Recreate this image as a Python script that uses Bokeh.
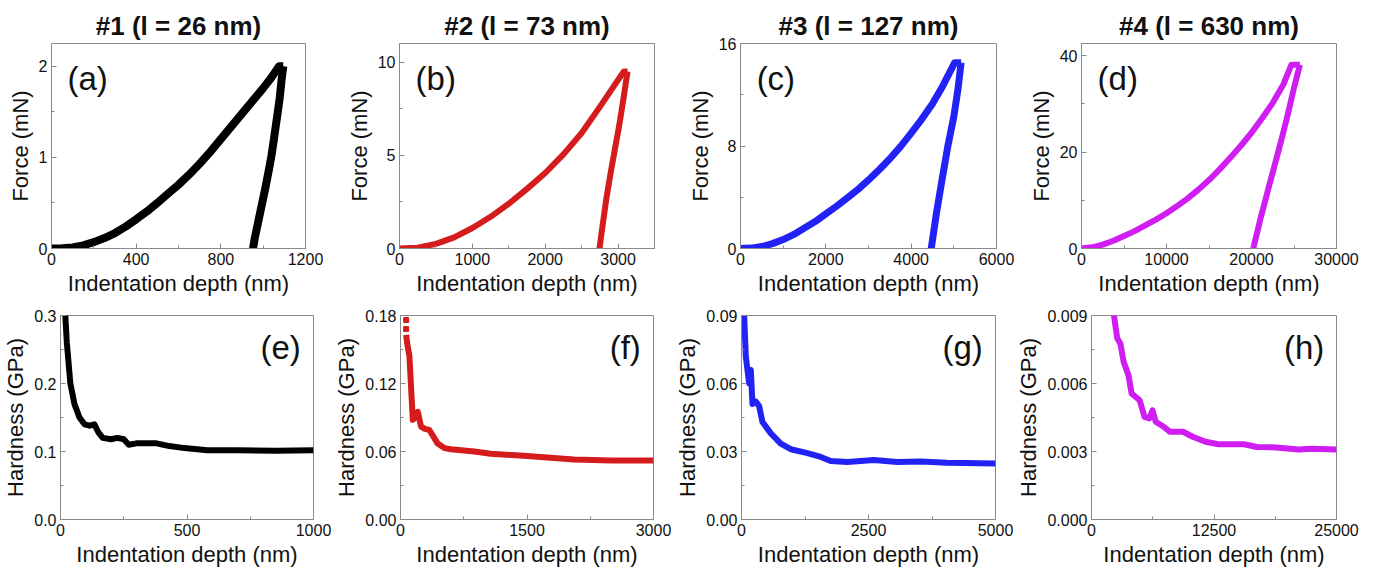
from bokeh.plotting import figure
from bokeh.models import Range1d, FixedTicker, PrintfTickFormatter, Label
from bokeh.layouts import column, row
from bokeh.embed import file_html
from bokeh.resources import INLINE

# ---------------- data ----------------
titles = ["#1 (l = 26 nm)", "#2 (l = 73 nm)", "#3 (l = 127 nm)", "#4 (l = 630 nm)"]
top_letters = ["(a)", "(b)", "(c)", "(d)"]
bot_letters = ["(e)", "(f)", "(g)", "(h)"]
colors = ["#000000", "#d41c1c", "#2222f5", "#d01ef2"]

# (a) sample #1 force-depth
a_load_x = [0, 50, 100, 150, 200, 250, 300, 350, 400, 450, 500, 550, 600, 650, 700, 750, 800,
            850, 900, 950, 1000, 1040, 1075, 1095]
a_load_y = [0, 0.002, 0.012, 0.035, 0.07, 0.115, 0.17, 0.24, 0.32, 0.405, 0.5, 0.6, 0.7, 0.81,
            0.93, 1.06, 1.2, 1.34, 1.48, 1.62, 1.76, 1.88, 2.0, 2.0]
a_unl_x = [1095, 1087, 1078, 1068, 1058, 1049, 1040, 1030, 1020, 1010, 1000, 990, 980, 970, 960, 952]
a_unl_y = [2.0, 1.85, 1.65, 1.48, 1.32, 1.17, 1.03, 0.9, 0.78, 0.66, 0.55, 0.44, 0.33, 0.22, 0.11, 0.0]
# (b) sample #2
b_load_x = [0, 250, 500, 750, 1000, 1250, 1500, 1750, 2000, 2250, 2500, 2750, 3000, 3080, 3130]
b_load_y = [0, 0.04, 0.25, 0.6, 1.1, 1.7, 2.4, 3.2, 4.05, 5.05, 6.2, 7.6, 9.05, 9.5, 9.5]
b_unl_x = [3130, 3105, 3080, 3050, 3020, 2990, 2960, 2930, 2900, 2870, 2840, 2815, 2790, 2765, 2745]
b_unl_y = [9.5, 8.85, 8.2, 7.45, 6.7, 6.05, 5.4, 4.75, 4.1, 3.4, 2.7, 2.0, 1.3, 0.6, 0.0]
# (c) sample #3
c_load_x = [0, 250, 500, 750, 1000, 1250, 1500, 1750, 2000, 2250, 2500, 2750, 3000, 3250, 3500,
            3750, 4000, 4250, 4500, 4750, 5020, 5170]
c_load_y = [0, 0.03, 0.15, 0.38, 0.7, 1.1, 1.6, 2.1, 2.7, 3.3, 3.95, 4.6, 5.35, 6.15, 7.0, 7.95,
            9.0, 10.1, 11.3, 12.75, 14.5, 14.5]
c_unl_x = [5170, 5135, 5100, 5050, 5000, 4930, 4860, 4790, 4720, 4655, 4590, 4530, 4470]
c_unl_y = [14.5, 13.5, 12.5, 11.4, 10.3, 9.15, 8.0, 6.65, 5.3, 4.0, 2.7, 1.35, 0.0]
# (d) sample #4
d_load_x = [0, 1250, 2500, 3750, 5000, 6250, 7500, 8750, 10000, 11250, 12500, 13750, 15000, 16250,
            17500, 18750, 20000, 21250, 22500, 23750, 24700, 25690]
d_load_y = [0, 0.25, 0.8, 1.6, 2.6, 3.6, 4.8, 6.0, 7.3, 8.8, 10.4, 12.2, 14.2, 16.4, 18.8, 21.3,
            24.0, 27.0, 30.2, 34.0, 38.1, 38.1]
d_unl_x = [25690, 25350, 25000, 24600, 24200, 23670, 23140, 22620, 22100, 21600, 21100, 20650, 20200]
d_unl_y = [38.1, 35.7, 33.3, 30.3, 27.3, 23.6, 20.0, 16.6, 13.2, 9.8, 6.5, 3.2, 0.0]

# (e)-(h) hardness-depth
e_x = [16, 25, 39, 55, 75, 95, 115, 134, 150, 167, 200, 225, 250, 270, 300, 380, 430, 490, 580, 700, 850, 1000]
e_y = [0.32, 0.26, 0.2, 0.17, 0.15, 0.14, 0.138, 0.14, 0.128, 0.12, 0.118, 0.12, 0.118, 0.11, 0.112,
       0.112, 0.108, 0.105, 0.102, 0.102, 0.101, 0.102]
f_pts_x = [67, 67]
f_pts_y = [0.176, 0.168]
f_x = [67, 80, 106, 130, 146, 175, 205, 244, 290, 342, 441, 520, 598, 874, 1071, 1504, 2055, 2500, 3000]
f_y = [0.163, 0.155, 0.144, 0.11, 0.088, 0.09, 0.095, 0.082, 0.08, 0.079, 0.067, 0.063, 0.062, 0.06,
       0.058, 0.056, 0.053, 0.052, 0.052]
g_x = [40, 52, 85, 150, 183, 216, 280, 347, 413, 577, 773, 970, 1297, 1560, 1756, 2084, 2608, 3067,
       3526, 4050, 5000]
g_y = [0.095, 0.09, 0.072, 0.06, 0.066, 0.051, 0.052, 0.05, 0.043, 0.038, 0.0335, 0.031, 0.0293,
       0.0276, 0.0258, 0.0254, 0.0262, 0.0254, 0.0256, 0.025, 0.0247]
h_x = [2200, 2294, 2621, 2949, 3277, 3768, 4096, 4915, 5406, 5898, 6226, 6553, 7372, 8027, 9338,
       10321, 11632, 12943, 15564, 16875, 18841, 21135, 22446, 25000]
h_y = [0.0095, 0.009, 0.008, 0.00776, 0.00696, 0.00637, 0.00556, 0.00526, 0.00453, 0.00446, 0.00482,
       0.00431, 0.00409, 0.00387, 0.00387, 0.00365, 0.00343, 0.00332, 0.00332, 0.0032, 0.00318,
       0.00309, 0.00312, 0.00309]

# axes: ranges and ticks
top_xr = [(0, 1200), (0, 3500), (0, 6000), (0, 30000)]
top_yr = [(0, 2.25), (0, 11), (0, 16), (0, 42.5)]
top_xt = [[0, 400, 800, 1200], [0, 1000, 2000, 3000], [0, 2000, 4000, 6000], [0, 10000, 20000, 30000]]
top_xm = [[200, 600, 1000], [500, 1500, 2500], [1000, 3000, 5000], [5000, 15000, 25000]]
top_yt = [[0, 1, 2], [0, 5, 10], [0, 8, 16], [0, 20, 40]]
top_ym = [[0.5, 1.5], [2.5, 7.5], [4, 12], [10, 30]]
bot_xr = [(0, 1000), (0, 3000), (0, 5000), (0, 25000)]
bot_yr = [(0, 0.3), (0, 0.18), (0, 0.09), (0, 0.009)]
bot_xt = [[0, 500, 1000], [0, 1500, 3000], [0, 2500, 5000], [0, 12500, 25000]]
bot_xm = [[250, 750], [750, 2250], [1250, 3750], [6250, 18750]]
bot_yt = [[0, 0.1, 0.2, 0.3], [0, 0.06, 0.12, 0.18], [0, 0.03, 0.06, 0.09], [0, 0.003, 0.006, 0.009]]
bot_ym = [[0.05, 0.15, 0.25], [0.03, 0.09, 0.15], [0.015, 0.045, 0.075], [0.0015, 0.0045, 0.0075]]
bot_yfmt = ["%.1f", "%.2f", "%.2f", "%.3f"]

FONT = "Liberation Sans"
FRAME = "#8a8a8a"

# layout geometry (pixels)
top_w = [323, 349, 342, 360]
top_left = [51, 76, 68, 67]
top_right = [18, 18, 18, 38]
bot_w = [331, 340, 342, 361]
bot_left = [59, 68, 70, 69]
bot_right = [18, 18, 18, 38]


def make_fig(w, h, left, right, top, bottom, xr, yr, xt, xm, yt, ym, yfmt, ylabel, title=None):
    p = figure(width=w, height=h, x_range=Range1d(*xr), y_range=Range1d(*yr),
               output_backend="svg", toolbar_location=None, title=title,
               min_border_left=left, min_border_right=right,
               min_border_top=top, min_border_bottom=bottom)
    p.grid.visible = False
    p.outline_line_color = FRAME
    p.outline_line_width = 1
    p.background_fill_color = "white"
    p.border_fill_color = "white"
    p.xaxis.ticker = FixedTicker(ticks=xt, minor_ticks=xm)
    p.yaxis.ticker = FixedTicker(ticks=yt, minor_ticks=ym)
    p.xaxis.formatter = PrintfTickFormatter(format="%d")
    p.yaxis.formatter = PrintfTickFormatter(format=yfmt)
    for ax in (p.xaxis[0], p.yaxis[0]):
        ax.axis_line_color = FRAME
        ax.major_tick_line_color = FRAME
        ax.minor_tick_line_color = FRAME
        ax.major_tick_in = 5
        ax.major_tick_out = 0
        ax.minor_tick_in = 3
        ax.minor_tick_out = 0
        ax.major_label_text_font = FONT
        ax.major_label_text_font_size = "16px"
        ax.major_label_text_color = "#111111"
        ax.major_label_standoff = 4
        ax.axis_label_text_font = FONT
        ax.axis_label_text_font_size = "22px"
        ax.axis_label_text_font_style = "normal"
        ax.axis_label_text_color = "#111111"
        ax.axis_label_standoff = 3
    p.xaxis.axis_label = "Indentation depth (nm)"
    p.yaxis.axis_label = ylabel
    if title is not None:
        p.title.text_font = FONT
        p.title.text_font_size = "26px"
        p.title.text_font_style = "bold"
        p.title.align = "center"
        p.title.text_color = "#111111"
        p.title.standoff = 6
    return p


top_data = [(a_load_x, a_load_y, a_unl_x, a_unl_y),
            (b_load_x, b_load_y, b_unl_x, b_unl_y),
            (c_load_x, c_load_y, c_unl_x, c_unl_y),
            (d_load_x, d_load_y, d_unl_x, d_unl_y)]
top_lw = [8, 6, 7, 6]

top_figs = []
for i in range(4):
    p = make_fig(top_w[i], 305, top_left[i], top_right[i], 43, 57, top_xr[i], top_yr[i],
                 top_xt[i], top_xm[i], top_yt[i], top_ym[i], "%d", "Force (mN)", title=titles[i])
    lx, ly, ux, uy = top_data[i]
    p.line(lx, ly, line_color=colors[i], line_width=top_lw[i], line_join="round")
    p.line(ux, uy, line_color=colors[i], line_width=top_lw[i], line_join="round")
    x0, x1 = top_xr[i]
    y0, y1 = top_yr[i]
    p.add_layout(Label(x=x0 + 0.063 * (x1 - x0), y=y1 - 0.17 * (y1 - y0), text=top_letters[i],
                       text_font=FONT, text_font_size="33px", text_baseline="middle",
                       text_align="left", text_color="#111111"))
    top_figs.append(p)

bot_data = [(e_x, e_y), (f_x, f_y), (g_x, g_y), (h_x, h_y)]
bot_figs = []
for i in range(4):
    p = make_fig(bot_w[i], 272, bot_left[i], bot_right[i], 10, 58, bot_xr[i], bot_yr[i],
                 bot_xt[i], bot_xm[i], bot_yt[i], bot_ym[i], bot_yfmt[i], "Hardness (GPa)")
    xs, ys = bot_data[i]
    p.line(xs, ys, line_color=colors[i], line_width=6, line_join="round")
    if i == 1:
        p.scatter(f_pts_x, f_pts_y, marker="square", size=5, color=colors[i])
    x0, x1 = bot_xr[i]
    y0, y1 = bot_yr[i]
    p.add_layout(Label(x=x1 - 0.05 * (x1 - x0), y=y1 - 0.157 * (y1 - y0), text=bot_letters[i],
                       text_font=FONT, text_font_size="33px", text_baseline="middle",
                       text_align="right", text_color="#111111"))
    bot_figs.append(p)

layout = column(row(*top_figs, spacing=0), row(*bot_figs, spacing=0), spacing=0)
open("out.html", "w").write(file_html(layout, INLINE))
